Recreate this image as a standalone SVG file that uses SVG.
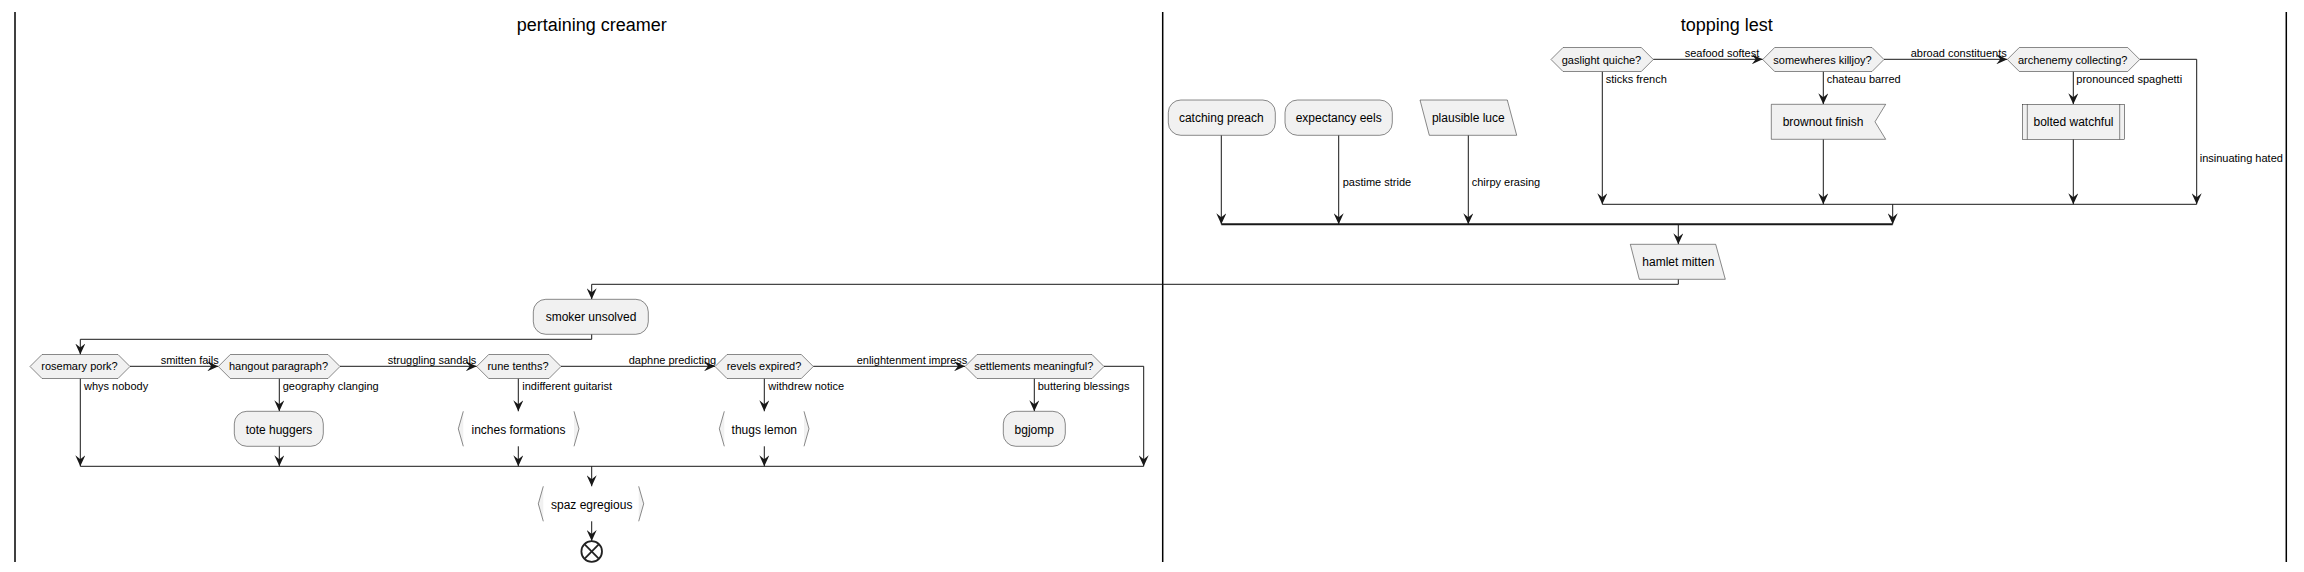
<svg xmlns="http://www.w3.org/2000/svg" width="2304" height="572" viewBox="0 0 2304 572">
<style>
.bg{fill:#FFFFFF}
.lane{stroke:#000000;stroke-width:1.5;fill:none}
.title{font-family:"Liberation Sans",Arial,sans-serif;font-size:18px;fill:#000000;text-anchor:middle}
.box{fill:#F1F1F1;stroke:#181818;stroke-width:0.5}
.brk{fill:#F1F1F1;stroke:none}
.brl{fill:none;stroke:#181818;stroke-width:0.5}
.t12{font-family:"Liberation Sans",Arial,sans-serif;font-size:12px;fill:#000000;text-anchor:middle}
.t11{font-family:"Liberation Sans",Arial,sans-serif;font-size:11px;fill:#000000;text-anchor:middle}
.lbl{font-family:"Liberation Sans",Arial,sans-serif;font-size:11px;fill:#000000}
.c{fill:none;stroke:#181818;stroke-width:1}
.ca{fill:none;stroke:#181818;stroke-width:1;marker-end:url(#ah)}
.bar{fill:none;stroke:#181818;stroke-width:2}
</style>
<defs>
<marker id="ah" viewBox="0 0 11 10" refX="11" refY="5" markerWidth="11" markerHeight="10" markerUnits="userSpaceOnUse" orient="auto">
<path d="M0,0 L11,5 L0,10 L4,5 Z" fill="#181818"/>
</marker>
</defs>
<rect class="bg" x="0" y="0" width="2304" height="572"/>

<g id="lanes">
<line class="lane" x1="15" y1="12" x2="15" y2="562"/>
<line class="lane" x1="1162.7" y1="12" x2="1162.7" y2="562"/>
<line class="lane" x1="2286.3" y1="12" x2="2286.3" y2="562"/>
<text class="title" x="591.8" y="30.7">pertaining creamer</text>
<text class="title" x="1726.7" y="30.7">topping lest</text>
</g>

<g id="connectors">
<!-- right lane -->
<path class="ca" d="M1653.3,59.3 L1762.7,59.3"/>
<path class="ca" d="M1884,59.3 L2007.3,59.3"/>
<path class="ca" d="M1602.3,71.7 L1602.3,204.3"/>
<path class="ca" d="M1823.3,71.7 L1823.3,104.3"/>
<path class="ca" d="M2073.3,71.7 L2073.3,104.3"/>
<path class="ca" d="M1823.3,139.3 L1823.3,204.3"/>
<path class="ca" d="M2073.3,139.3 L2073.3,204.3"/>
<path class="ca" d="M2139.7,59.3 L2196.7,59.3 L2196.7,204.3"/>
<path class="c" d="M1602.3,204.3 L2196.7,204.3"/>
<path class="ca" d="M1892.7,204.3 L1892.7,224.3"/>
<path class="ca" d="M1221.3,135.3 L1221.3,224.3"/>
<path class="ca" d="M1338.7,135.3 L1338.7,224.3"/>
<path class="ca" d="M1468.3,135.3 L1468.3,224.3"/>
<path class="bar" d="M1221.3,224.3 L1892.7,224.3"/>
<path class="ca" d="M1678.3,224.3 L1678.3,244.3"/>
<path class="ca" d="M1678.3,279.3 L1678.3,284.3 L591.7,284.3 L591.7,299.3"/>
<!-- left lane -->
<path class="ca" d="M591.7,334.3 L591.7,339.3 L80.3,339.3 L80.3,354.5"/>
<path class="ca" d="M130,366.3 L218.3,366.3"/>
<path class="ca" d="M340,366.3 L476.7,366.3"/>
<path class="ca" d="M561,366.3 L715,366.3"/>
<path class="ca" d="M813.3,366.3 L965,366.3"/>
<path class="ca" d="M80.3,378.5 L80.3,466.3"/>
<path class="ca" d="M279.3,378.5 L279.3,411.3"/>
<path class="ca" d="M518.3,378.5 L518.3,411.3"/>
<path class="ca" d="M764.3,378.5 L764.3,411.3"/>
<path class="ca" d="M1034.3,378.5 L1034.3,411.3"/>
<path class="ca" d="M279.3,446.3 L279.3,466.3"/>
<path class="ca" d="M518.3,446.3 L518.3,466.3"/>
<path class="ca" d="M764.3,446.3 L764.3,466.3"/>
<path class="ca" d="M1104,366.3 L1143.7,366.3 L1143.7,466.3"/>
<path class="c" d="M80.3,466.3 L1143.7,466.3"/>
<path class="ca" d="M591.7,466.3 L591.7,486.3"/>
<path class="ca" d="M591.7,521.3 L591.7,541"/>
<!-- labels -->
<text class="lbl" x="1684.7" y="56.7">seafood softest</text>
<text class="lbl" x="1910.7" y="56.7">abroad constituents</text>
<text class="lbl" x="1605.7" y="82.7">sticks french</text>
<text class="lbl" x="1826.7" y="82.7">chateau barred</text>
<text class="lbl" x="2076.3" y="82.7">pronounced spaghetti</text>
<text class="lbl" x="2199.7" y="161.7">insinuating hated</text>
<text class="lbl" x="1342.7" y="185.7">pastime stride</text>
<text class="lbl" x="1471.7" y="185.7">chirpy erasing</text>
<text class="lbl" x="160.7" y="363.6">smitten fails</text>
<text class="lbl" x="387.7" y="363.6">struggling sandals</text>
<text class="lbl" x="628.7" y="363.6">daphne predicting</text>
<text class="lbl" x="856.7" y="363.6">enlightenment impress</text>
<text class="lbl" x="84" y="389.7">whys nobody</text>
<text class="lbl" x="282.7" y="389.7">geography clanging</text>
<text class="lbl" x="522.3" y="389.7">indifferent guitarist</text>
<text class="lbl" x="768.3" y="389.7">withdrew notice</text>
<text class="lbl" x="1037.7" y="389.7">buttering blessings</text>
</g>

<!-- right lane nodes -->
<g id="catching-preach">
<rect class="box" x="1168.3" y="100" width="107" height="35.3" rx="12.5" ry="12.5"/>
<text class="t12" x="1221.3" y="122.3">catching preach</text>
</g>
<g id="expectancy-eels">
<rect class="box" x="1285" y="100" width="107.3" height="35.3" rx="12.5" ry="12.5"/>
<text class="t12" x="1338.7" y="122.3">expectancy eels</text>
</g>
<g id="plausible-luce">
<path class="box" d="M1420,100 L1507.3,100 L1516.7,135.3 L1429.3,135.3 Z"/>
<text class="t12" x="1468.3" y="122.3">plausible luce</text>
</g>
<g id="gaslight-quiche">
<path class="box" d="M1551,59.5 L1563,47.5 L1641.3,47.5 L1653.3,59.5 L1641.3,71.5 L1563,71.5 Z"/>
<text class="t11" x="1601.5" y="63.5">gaslight quiche?</text>
</g>
<g id="somewheres-killjoy">
<path class="box" d="M1762.7,59.5 L1774.7,47.5 L1872,47.5 L1884,59.5 L1872,71.5 L1774.7,71.5 Z"/>
<text class="t11" x="1822.5" y="63.5">somewheres killjoy?</text>
</g>
<g id="archenemy-collecting">
<path class="box" d="M2007.3,59.5 L2019.3,47.5 L2127.7,47.5 L2139.7,59.5 L2127.7,71.5 L2019.3,71.5 Z"/>
<text class="t11" x="2072.7" y="63.5">archenemy collecting?</text>
</g>
<g id="brownout-finish">
<path class="box" d="M1771.3,104.3 L1885.7,104.3 L1875,121.8 L1885.7,139.3 L1771.3,139.3 Z"/>
<text class="t12" x="1823" y="126.3">brownout finish</text>
</g>
<g id="bolted-watchful">
<rect class="box" x="2022.3" y="104.3" width="102.4" height="35"/>
<line class="brl" x1="2027.3" y1="104.3" x2="2027.3" y2="139.3"/>
<line class="brl" x1="2119.7" y1="104.3" x2="2119.7" y2="139.3"/>
<text class="t12" x="2073.5" y="126.3">bolted watchful</text>
</g>
<g id="hamlet-mitten">
<path class="box" d="M1630.3,244.3 L1715.7,244.3 L1725.3,279.3 L1639.3,279.3 Z"/>
<text class="t12" x="1678.3" y="266.3">hamlet mitten</text>
</g>

<!-- left lane nodes -->
<g id="smoker-unsolved">
<rect class="box" x="533.3" y="299.3" width="115" height="35" rx="12.5" ry="12.5"/>
<text class="t12" x="591" y="321.3">smoker unsolved</text>
</g>
<g id="rosemary-pork">
<path class="box" d="M30,366.5 L42,354.5 L118,354.5 L130,366.5 L118,378.5 L42,378.5 Z"/>
<text class="t11" x="79.5" y="370.4">rosemary pork?</text>
</g>
<g id="hangout-paragraph">
<path class="box" d="M218.3,366.5 L230.3,354.5 L328,354.5 L340,366.5 L328,378.5 L230.3,378.5 Z"/>
<text class="t11" x="278.5" y="370.4">hangout paragraph?</text>
</g>
<g id="rune-tenths">
<path class="box" d="M476.7,366.5 L488.7,354.5 L549,354.5 L561,366.5 L549,378.5 L488.7,378.5 Z"/>
<text class="t11" x="518" y="370.4">rune tenths?</text>
</g>
<g id="revels-expired">
<path class="box" d="M715,366.5 L727,354.5 L801.3,354.5 L813.3,366.5 L801.3,378.5 L727,378.5 Z"/>
<text class="t11" x="764" y="370.4">revels expired?</text>
</g>
<g id="settlements-meaningful">
<path class="box" d="M965,366.5 L977,354.5 L1092,354.5 L1104,366.5 L1092,378.5 L977,378.5 Z"/>
<text class="t11" x="1033.8" y="370.4">settlements meaningful?</text>
</g>
<g id="tote-huggers">
<rect class="box" x="234.3" y="411.3" width="89" height="35" rx="12.5" ry="12.5"/>
<text class="t12" x="279" y="433.5">tote huggers</text>
</g>
<g id="inches-formations">
<path class="brk" d="M463.3,411.3 L458.3,428.8 L463.3,446.3 Z"/>
<path class="brk" d="M574,411.3 L579,428.8 L574,446.3 Z"/>
<polyline class="brl" points="463.3,411.3 458.3,428.8 463.3,446.3"/>
<polyline class="brl" points="574,411.3 579,428.8 574,446.3"/>
<text class="t12" x="518.5" y="433.5">inches formations</text>
</g>
<g id="thugs-lemon">
<path class="brk" d="M724.3,411.3 L719.3,428.8 L724.3,446.3 Z"/>
<path class="brk" d="M804,411.3 L809,428.8 L804,446.3 Z"/>
<polyline class="brl" points="724.3,411.3 719.3,428.8 724.3,446.3"/>
<polyline class="brl" points="804,411.3 809,428.8 804,446.3"/>
<text class="t12" x="764.3" y="433.5">thugs lemon</text>
</g>
<g id="bgjomp">
<rect class="box" x="1003.3" y="411.3" width="62" height="35" rx="12.5" ry="12.5"/>
<text class="t12" x="1034.3" y="433.5">bgjomp</text>
</g>
<g id="spaz-egregious">
<path class="brk" d="M543.3,486.3 L538.3,503.8 L543.3,521.3 Z"/>
<path class="brk" d="M638.7,486.3 L643.7,503.8 L638.7,521.3 Z"/>
<polyline class="brl" points="543.3,486.3 538.3,503.8 543.3,521.3"/>
<polyline class="brl" points="638.7,486.3 643.7,503.8 638.7,521.3"/>
<text class="t12" x="591.7" y="508.5">spaz egregious</text>
</g>
<g id="end">
<circle cx="591.7" cy="551.5" r="10.3" fill="#FFFFFF" stroke="#222222" stroke-width="1.8"/>
<line x1="584.4" y1="544.2" x2="599" y2="558.8" stroke="#222222" stroke-width="1.8"/>
<line x1="599" y1="544.2" x2="584.4" y2="558.8" stroke="#222222" stroke-width="1.8"/>
</g>
</svg>
